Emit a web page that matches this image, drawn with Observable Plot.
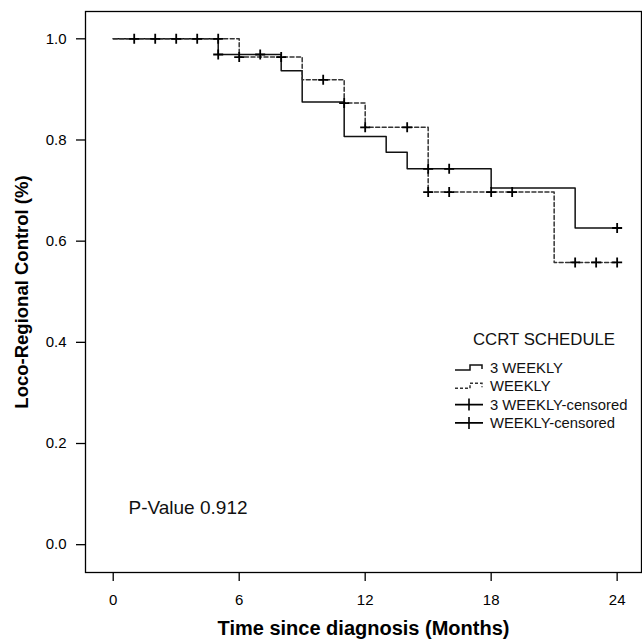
<!DOCTYPE html>
<html><head><meta charset="utf-8">
<script src="https://cdn.jsdelivr.net/npm/d3@7"></script>
<script src="https://cdn.jsdelivr.net/npm/@observablehq/plot@0.6"></script>
<style>
html,body{margin:0;padding:0;background:#fff;}
#chart{position:relative;width:642px;height:640px;}
#legend{position:absolute;left:0;top:0;pointer-events:none;}
</style></head><body><div id="chart"></div>
<script>
const FONT = '"Liberation Sans", Arial, sans-serif';

// ---- data ----
const xTicks = [0, 6, 12, 18, 24];
const yTicks = [0.0, 0.2, 0.4, 0.6, 0.8, 1.0];

const months3W = [0, 5, 8, 9, 11, 13, 14, 18, 22, 24];
const surv3W   = [1.0, 0.969, 0.937, 0.875, 0.807, 0.776, 0.743, 0.705, 0.626, 0.626];
const monthsW  = [0, 6, 9, 11, 12, 15, 21, 24];
const survW    = [1.0, 0.964, 0.919, 0.873, 0.825, 0.697, 0.558, 0.558];

const cens3WMonths = [1, 2, 3, 4, 5, 5, 7, 15, 16, 24];
const cens3WSurv   = [1.0, 1.0, 1.0, 1.0, 1.0, 0.969, 0.969, 0.743, 0.743, 0.626];
const censWMonths  = [6, 8, 10, 11, 12, 14, 15, 16, 18, 19, 22, 23, 24];
const censWSurv    = [0.964, 0.964, 0.919, 0.873, 0.825, 0.825, 0.697, 0.697, 0.697, 0.697, 0.558, 0.558, 0.558];

const legendTitle = "CCRT SCHEDULE";
const legendLabels = ["3 WEEKLY", "WEEKLY", "3 WEEKLY-censored", "WEEKLY-censored"];
const pValueText = "P-Value 0.912";
const xTitle = "Time since diagnosis (Months)";
const yTitle = "Loco-Regional Control (%)";

// ---- tables ----
const line3W = months3W.map((t, i) => ({t, s: surv3W[i]}));
const lineW = monthsW.map((t, i) => ({t, s: survW[i]}));
const cens = [
  ...cens3WMonths.map((t, i) => ({t, s: cens3WSurv[i]})),
  ...censWMonths.map((t, i) => ({t, s: censWSurv[i]}))
];

const plusSymbol = {
  draw(ctx, size) {
    const r = Math.sqrt(size / Math.PI);
    ctx.moveTo(-r, 0); ctx.lineTo(r, 0);
    ctx.moveTo(0, -r); ctx.lineTo(0, r);
  }
};

const chart = Plot.plot({
  width: 642, height: 640,
  marginLeft: 85, marginRight: 1, marginTop: 11, marginBottom: 68,
  style: {fontFamily: FONT, background: "#fff", color: "#000"},
  x: {domain: [-1.32, 25.16]},
  y: {domain: [-0.055, 1.054]},
  marks: [
    Plot.frame({stroke: "#000", strokeWidth: 1.3}),
    Plot.axisX(xTicks, {tickSize: 9, tickPadding: 13, fontSize: 15, label: null, strokeWidth: 1.3}),
    Plot.axisY(yTicks, {tickSize: 9, tickPadding: 10, fontSize: 15, tickFormat: d3.format(".1f"), label: null, strokeWidth: 1.3}),
    Plot.line(line3W, {x: "t", y: "s", curve: "step-after", stroke: "#111", strokeWidth: 1.5}),
    Plot.line(lineW, {x: "t", y: "s", curve: "step-after", stroke: "#333", strokeWidth: 1.5, strokeDasharray: "4,2.5"}),
    Plot.dot(cens, {x: "t", y: "s", symbol: plusSymbol, r: 5, stroke: "#000", strokeWidth: 1.8, fill: "none"}),
    Plot.text([pValueText], {text: d => d, frameAnchor: "bottom-left", dx: 43, dy: -65, textAnchor: "start", lineAnchor: "middle", fontSize: 19, fill: "#111"}),
    Plot.text([yTitle], {text: d => d, frameAnchor: "left", dx: -63, rotate: -90, textAnchor: "middle", lineAnchor: "middle", fontSize: 18.5, fontWeight: "bold", fill: "#000"}),
    Plot.text([xTitle], {text: d => d, frameAnchor: "bottom", dy: 56, textAnchor: "middle", lineAnchor: "middle", fontSize: 20, fontWeight: "bold", fill: "#000"})
  ]
});
const host = document.getElementById("chart");
host.appendChild(chart);

// ---- legend overlay ----
const svg = d3.select(host).append("svg").attr("id", "legend")
  .attr("width", 642).attr("height", 640)
  .style("font-family", FONT);
svg.append("text").attr("x", 473).attr("y", 339).attr("dy", "0.35em")
  .attr("font-size", 16.8).attr("fill", "#111").text(legendTitle);
const rowY0 = 368, rowStep = 18.3;
legendLabels.forEach((lab, i) => {
  const y = rowY0 + i * rowStep;
  if (i < 2) {
    svg.append("path")
      .attr("d", `M455,${y + 2}H470V${y - 3}H482V${y + 1}`)
      .attr("fill", "none").attr("stroke", i === 0 ? "#111" : "#333")
      .attr("stroke-width", 1.5)
      .attr("stroke-dasharray", i === 0 ? null : "3,2");
  } else {
    svg.append("path")
      .attr("d", `M455,${y}H483M469,${y - 6}V${y + 6}`)
      .attr("fill", "none").attr("stroke", "#000").attr("stroke-width", 1.6);
  }
  svg.append("text").attr("x", 490).attr("y", y).attr("dy", "0.35em")
    .attr("font-size", 14.8).attr("fill", "#111").text(lab);
});
</script></body></html>
